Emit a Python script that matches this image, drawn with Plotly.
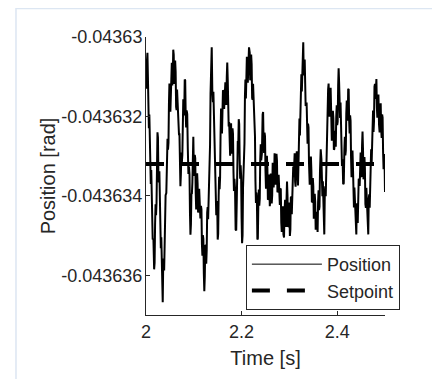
import plotly.graph_objects as go

# ---- data ----
time_s = [
    2.000, 2.001, 2.002, 2.003, 2.004, 2.005, 2.006, 2.007, 2.008, 2.009, 2.010, 2.011, 2.012, 2.013, 2.014, 2.0155, 2.017, 2.018,
    2.019, 2.020, 2.021, 2.022, 2.023, 2.024, 2.025, 2.026, 2.027, 2.028, 2.029, 2.030, 2.031, 2.032, 2.033, 2.034, 2.035, 2.036,
    2.037, 2.038, 2.039, 2.040, 2.041, 2.0425, 2.044, 2.045, 2.046, 2.047, 2.048, 2.049, 2.050, 2.051, 2.052, 2.053, 2.054, 2.055, 2.056, 2.057, 2.058, 2.059,
    2.060, 2.061, 2.062, 2.063, 2.064, 2.065, 2.066, 2.0675, 2.069, 2.070, 2.071, 2.072, 2.073, 2.074, 2.075, 2.076, 2.077, 2.078, 2.079, 2.080, 2.081, 2.082,
    2.083, 2.084, 2.085, 2.08625, 2.0875, 2.08875, 2.090, 2.091, 2.092, 2.093, 2.094, 2.095, 2.096, 2.097, 2.098, 2.099,
    2.100, 2.101, 2.102, 2.103, 2.104, 2.105, 2.106, 2.107, 2.108, 2.109, 2.110, 2.11125, 2.1125, 2.11375,
    2.115, 2.116, 2.117, 2.118, 2.119, 2.120, 2.121, 2.122, 2.123, 2.124, 2.125, 2.126, 2.127, 2.128, 2.129, 2.130, 2.131, 2.132,
    2.133, 2.134, 2.135, 2.13625, 2.1375, 2.13875, 2.140, 2.141, 2.142, 2.143, 2.144, 2.145, 2.146, 2.147, 2.148, 2.149, 2.150, 2.151,
    2.152, 2.153, 2.154, 2.155, 2.156, 2.157, 2.158, 2.159, 2.160, 2.161, 2.162, 2.1635, 2.165, 2.166, 2.167, 2.168, 2.169, 2.170, 2.171, 2.172,
    2.173, 2.174, 2.175, 2.176, 2.177, 2.178, 2.179, 2.180, 2.181, 2.182, 2.183, 2.184, 2.185, 2.18625, 2.1875, 2.18875,
    2.190, 2.191, 2.192, 2.193, 2.194, 2.195, 2.196, 2.197, 2.198, 2.199, 2.200, 2.201, 2.202, 2.203, 2.204, 2.205, 2.206, 2.207, 2.208, 2.209,
    2.210, 2.211, 2.212, 2.213, 2.214, 2.2155, 2.217, 2.218, 2.219, 2.220, 2.221, 2.222, 2.223, 2.224, 2.225, 2.226,
    2.227, 2.228, 2.229, 2.230, 2.231, 2.232, 2.233, 2.234, 2.235, 2.236, 2.237, 2.238, 2.239, 2.240, 2.241, 2.2425, 2.244, 2.245,
    2.246, 2.247, 2.248, 2.249, 2.250, 2.251, 2.252, 2.253, 2.254, 2.255, 2.256, 2.257, 2.258, 2.259, 2.260, 2.261,
    2.262, 2.263, 2.264, 2.265, 2.266, 2.267, 2.268, 2.269, 2.270, 2.271, 2.272, 2.273, 2.274, 2.275, 2.276, 2.2775, 2.279, 2.280,
    2.281, 2.282, 2.283, 2.284, 2.285, 2.28625, 2.2875, 2.28875, 2.290, 2.291, 2.292, 2.293, 2.294, 2.295,
    2.296, 2.297, 2.298, 2.299, 2.300, 2.301, 2.302, 2.303, 2.304, 2.305, 2.306, 2.307, 2.308, 2.309,
    2.310, 2.311, 2.312, 2.313, 2.314, 2.3155, 2.317, 2.318, 2.319, 2.320, 2.321, 2.322, 2.323, 2.324, 2.325, 2.326, 2.327, 2.328, 2.329, 2.330,
    2.331, 2.332, 2.333, 2.334, 2.335, 2.336, 2.337, 2.338, 2.339, 2.340, 2.341, 2.3425, 2.344, 2.345,
    2.346, 2.347, 2.348, 2.349, 2.350, 2.351, 2.352, 2.353, 2.354, 2.355, 2.356, 2.357, 2.358, 2.359,
    2.360, 2.361, 2.362, 2.363, 2.364, 2.3655, 2.367, 2.368, 2.369, 2.370, 2.371, 2.372, 2.373, 2.374,
    2.375, 2.376, 2.377, 2.378, 2.379, 2.380, 2.381, 2.382, 2.383, 2.384, 2.385, 2.38625, 2.3875, 2.38875,
    2.390, 2.391, 2.392, 2.393, 2.394, 2.395, 2.396, 2.397, 2.398, 2.399, 2.400, 2.401, 2.402, 2.403, 2.404, 2.405,
    2.406, 2.407, 2.408, 2.409, 2.410, 2.41125, 2.4125, 2.41375, 2.415, 2.416, 2.417, 2.418, 2.419, 2.420, 2.421, 2.422, 2.423, 2.424,
    2.425, 2.426, 2.427, 2.428, 2.429, 2.430, 2.431, 2.432, 2.433, 2.434, 2.435, 2.436, 2.437, 2.4385, 2.440, 2.441,
    2.442, 2.443, 2.444, 2.445, 2.446, 2.447, 2.448, 2.449, 2.450, 2.451, 2.452, 2.453, 2.454, 2.455,
    2.456, 2.457, 2.458, 2.459, 2.460, 2.461, 2.462, 2.4635, 2.465, 2.466, 2.467, 2.468, 2.469, 2.470, 2.471, 2.472,
    2.473, 2.474, 2.475, 2.476, 2.477, 2.478, 2.479, 2.480, 2.481, 2.482, 2.483, 2.484, 2.485, 2.48625, 2.4875, 2.48875,
    2.490, 2.491, 2.492, 2.493, 2.494, 2.495, 2.496, 2.497, 2.498, 2.499, 2.500,
]

position_rad = [
    -0.0436312, -0.0436313, -0.0436306, -0.0436304, -0.043631, -0.04363205, -0.0436323, -0.04363195, -0.0436324, -0.04363345, -0.0436337, -0.04363335, -0.0436338, -0.04363485, -0.0436351, -0.04363508, -0.04363585, -0.04363569,
    -0.04363472, -0.04363421, -0.04363449, -0.04363418, -0.04363306, -0.0436324, -0.04363253, -0.0436335, -0.04363366, -0.04363338, -0.04363389, -0.04363501, -0.04363532, -0.04363504, -0.04363555, -0.04363652, -0.04363668, -0.04363573,
    -0.04363558, -0.04363588, -0.04363538, -0.04363428, -0.04363398, -0.04363393, -0.04363308, -0.04363256, -0.04363284, -0.04363267, -0.04363169, -0.04363117, -0.04363145, -0.04363188, -0.0436315, -0.04363068, -0.04363065, -0.04363122, -0.04363099, -0.04363032, -0.04363044, -0.04363118,
    -0.04363111, -0.04363059, -0.04363087, -0.04363176, -0.04363184, -0.04363132, -0.0436316, -0.04363243, -0.04363245, -0.04363245, -0.04363325, -0.04363376, -0.04363346, -0.04363291, -0.04363316, -0.04363297, -0.04363197, -0.04363157, -0.04363197, -0.04363192, -0.04363107, -0.04363109,
    -0.04363191, -0.04363228, -0.04363185, -0.04363194, -0.04363283, -0.04363345, -0.04363326, -0.04363345, -0.04363444, -0.04363498, -0.04363472, -0.04363394, -0.04363395, -0.04363367, -0.04363258, -0.04363251,
    -0.04363323, -0.0436335, -0.04363297, -0.04363305, -0.04363392, -0.04363434, -0.04363396, -0.04363343, -0.0436337, -0.04363442, -0.04363434, -0.04363382, -0.04363409, -0.04363457,
    -0.04363425, -0.04363434, -0.04363522, -0.04363551, -0.04363499, -0.04363508, -0.04363596, -0.0436364, -0.04363603, -0.04363524, -0.04363525, -0.04363571, -0.04363536, -0.04363442, -0.04363428, -0.04363459, -0.04363409, -0.04363325,
    -0.04363321, -0.04363272, -0.04363143, -0.04363045, -0.04363026, -0.04363135, -0.04363164, -0.04363138, -0.04363191, -0.0436329, -0.04363308, -0.04363317, -0.04363405, -0.04363449, -0.04363413, -0.04363422, -0.0436351, -0.04363496,
    -0.04363401, -0.04363352, -0.04363383, -0.04363354, -0.04363244, -0.0436318, -0.04363195, -0.04363243, -0.04363211, -0.04363134, -0.04363136, -0.04363181, -0.04363145, -0.04363114, -0.04363162, -0.04363171, -0.043631, -0.04363064, -0.04363107, -0.04363206,
    -0.04363225, -0.04363214, -0.04363283, -0.04363299, -0.04363235, -0.04363217, -0.04363278, -0.04363294, -0.0436323, -0.04363244, -0.04363338, -0.04363388, -0.04363357, -0.04363381, -0.04363485, -0.04363487,
    -0.04363408, -0.04363295, -0.04363262, -0.04363275, -0.04363207, -0.04363219, -0.0436331, -0.04363357, -0.04363323, -0.0436335, -0.04363457, -0.04363519, -0.043635, -0.0436338, -0.04363339, -0.04363344, -0.04363268, -0.04363148, -0.04363107, -0.04363155,
    -0.04363122, -0.0436305, -0.04363057, -0.04363115, -0.04363092, -0.04363026, -0.04363039, -0.04363109, -0.04363099, -0.04363044, -0.04363068, -0.04363153, -0.04363158, -0.04363118, -0.04363157, -0.04363226,
    -0.04363215, -0.0436325, -0.04363364, -0.04363418, -0.04363392, -0.04363411, -0.0436351, -0.04363507, -0.04363423, -0.04363384, -0.04363425, -0.04363407, -0.04363308, -0.0436327, -0.04363311, -0.04363293, -0.04363195, -0.04363189,
    -0.04363263, -0.04363292, -0.04363241, -0.0436325, -0.04363338, -0.04363382, -0.04363346, -0.04363299, -0.04363332, -0.0436341, -0.04363408, -0.04363346, -0.04363363, -0.04363426, -0.04363409, -0.04363344,
    -0.04363359, -0.04363419, -0.04363399, -0.04363319, -0.04363319, -0.04363379, -0.04363358, -0.04363293, -0.04363308, -0.04363372, -0.04363355, -0.04363294, -0.04363312, -0.04363391, -0.04363389, -0.04363347, -0.04363384, -0.04363423,
    -0.04363381, -0.04363384, -0.04363467, -0.04363491, -0.04363434, -0.04363426, -0.04363497, -0.04363505, -0.04363433, -0.0436341, -0.04363466, -0.04363478, -0.04363409, -0.04363364,
    -0.04363398, -0.04363478, -0.04363477, -0.04363417, -0.04363436, -0.04363501, -0.04363485, -0.04363404, -0.04363402, -0.04363446, -0.04363409, -0.04363328, -0.04363326, -0.04363353,
    -0.043633, -0.04363293, -0.04363365, -0.04363377, -0.04363309, -0.04363288, -0.04363346, -0.04363374, -0.04363321, -0.04363223, -0.04363205, -0.04363248, -0.0436321, -0.04363112, -0.04363094, -0.04363137, -0.04363099, -0.04363016, -0.04363013, -0.04363094,
    -0.04363095, -0.04363057, -0.04363098, -0.04363174, -0.0436317, -0.04363165, -0.04363239, -0.04363269, -0.04363218, -0.04363228, -0.04363317, -0.04363372, -0.04363346, -0.04363301,
    -0.04363336, -0.04363416, -0.04363415, -0.04363355, -0.04363375, -0.04363455, -0.04363455, -0.04363395, -0.04363415, -0.04363485, -0.04363475, -0.0436344, -0.04363485, -0.04363491,
    -0.04363416, -0.04363386, -0.04363436, -0.04363427, -0.04363337, -0.04363283, -0.04363308, -0.04363395, -0.04363401, -0.04363363, -0.04363404, -0.04363491, -0.04363497, -0.04363397,
    -0.04363376, -0.04363401, -0.04363345, -0.04363229, -0.04363193, -0.04363203, -0.04363132, -0.04363117, -0.04363181, -0.04363201, -0.04363141, -0.04363128, -0.04363195, -0.04363261,
    -0.04363247, -0.04363186, -0.04363205, -0.04363284, -0.04363282, -0.04363236, -0.0436327, -0.04363276, -0.04363201, -0.04363172, -0.04363222, -0.04363213, -0.04363123, -0.04363079, -0.04363114, -0.04363199,
    -0.04363204, -0.04363165, -0.04363205, -0.04363305, -0.04363325, -0.04363308, -0.04363371, -0.04363368, -0.04363284, -0.04363251, -0.04363298, -0.04363286, -0.04363193, -0.0436316, -0.04363207, -0.0436321, -0.04363132, -0.04363131,
    -0.04363209, -0.04363243, -0.04363197, -0.04363211, -0.04363304, -0.04363353, -0.04363321, -0.04363286, -0.0436333, -0.0436342, -0.04363429, -0.04363379, -0.04363408, -0.04363493, -0.04363497, -0.04363419,
    -0.04363421, -0.04363468, -0.04363435, -0.04363357, -0.04363359, -0.04363375, -0.0436331, -0.04363291, -0.04363351, -0.04363352, -0.04363272, -0.04363238, -0.04363283, -0.04363358,
    -0.04363352, -0.04363302, -0.04363331, -0.04363421, -0.0436343, -0.0436338, -0.04363409, -0.04363493, -0.04363497, -0.04363407, -0.04363396, -0.0436343, -0.04363384, -0.04363294, -0.04363283, -0.04363321,
    -0.04363279, -0.04363192, -0.04363185, -0.04363239, -0.04363212, -0.04363125, -0.04363118, -0.04363156, -0.04363114, -0.04363106, -0.04363177, -0.04363203, -0.04363149, -0.04363145, -0.0436322, -0.0436324,
    -0.0436318, -0.04363167, -0.04363233, -0.04363254, -0.04363195, -0.04363203, -0.0436329, -0.04363333, -0.04363295, -0.04363303, -0.0436339,
]

setpoint_time = [2.0, 2.5]
setpoint_rad = [-0.0436332, -0.0436332]

x_ticks = [2.0, 2.2, 2.4]
x_tick_labels = ["2", "2.2", "2.4"]
y_ticks = [-0.04363, -0.043632, -0.043634, -0.043636]
y_tick_labels = ["-0.04363", "-0.043632", "-0.043634", "-0.043636"]

FONT = "Liberation Sans, Arial, Helvetica, sans-serif"
AXIS_COLOR = "#262626"

fig = go.Figure()

fig.add_trace(go.Scatter(
    x=time_s, y=position_rad, mode="lines", name="Position",
    line=dict(color="black", width=2.0), showlegend=False,
    legendgroup="pos",
))
# legend entry for the position line (thin)
fig.add_trace(go.Scatter(
    x=[None], y=[None], mode="lines", name="Position",
    line=dict(color="black", width=1), legendgroup="pos",
))
fig.add_trace(go.Scatter(
    x=setpoint_time, y=setpoint_rad, mode="lines", name="Setpoint",
    line=dict(color="black", width=4, dash="18px,17px"),
    legendgroup="set",
))

fig.update_layout(
    width=432, height=371, autosize=False,
    margin=dict(l=138, r=55, t=29, b=64, pad=0, autoexpand=False),
    paper_bgcolor="white", plot_bgcolor="white",
    font=dict(family=FONT, size=18, color=AXIS_COLOR),
    showlegend=True,
    legend=dict(
        x=0.418, y=0.252, xanchor="left", yanchor="top",
        bgcolor="white", bordercolor=AXIS_COLOR, borderwidth=1,
        font=dict(family=FONT, size=18, color=AXIS_COLOR),
        itemwidth=70, tracegroupgap=0, traceorder="grouped",
    ),
    xaxis=dict(
        range=[2.0, 2.5], tickmode="array", tickvals=x_ticks, ticktext=x_tick_labels,
        ticks="inside", ticklen=4, tickcolor=AXIS_COLOR,
        showline=True, linecolor=AXIS_COLOR, linewidth=1,
        showgrid=False, zeroline=False, automargin=False,
        tickfont=dict(family=FONT, size=18, color=AXIS_COLOR),
        title=dict(text="Time [s]", font=dict(family=FONT, size=20, color=AXIS_COLOR), standoff=10),
    ),
    yaxis=dict(
        range=[-0.043637, -0.04363], tickmode="array", tickvals=y_ticks, ticktext=y_tick_labels,
        ticks="inside", ticklen=4, tickcolor=AXIS_COLOR, ticklabelstandoff=-1,
        showline=True, linecolor=AXIS_COLOR, linewidth=1,
        showgrid=False, zeroline=False, automargin=False,
        tickfont=dict(family=FONT, size=18, color=AXIS_COLOR),
        title=dict(text="Position [rad]", font=dict(family=FONT, size=20, color=AXIS_COLOR), standoff=0),
    ),
    shapes=[dict(
        type="rect", xref="paper", yref="paper",
        x0=-0.544, x1=1.2218, y0=-0.4, y1=1.1025,
        line=dict(color="#dce6f2", width=1.5), fillcolor="rgba(0,0,0,0)", layer="below",
    )],
)

fig.write_html("out.html")
